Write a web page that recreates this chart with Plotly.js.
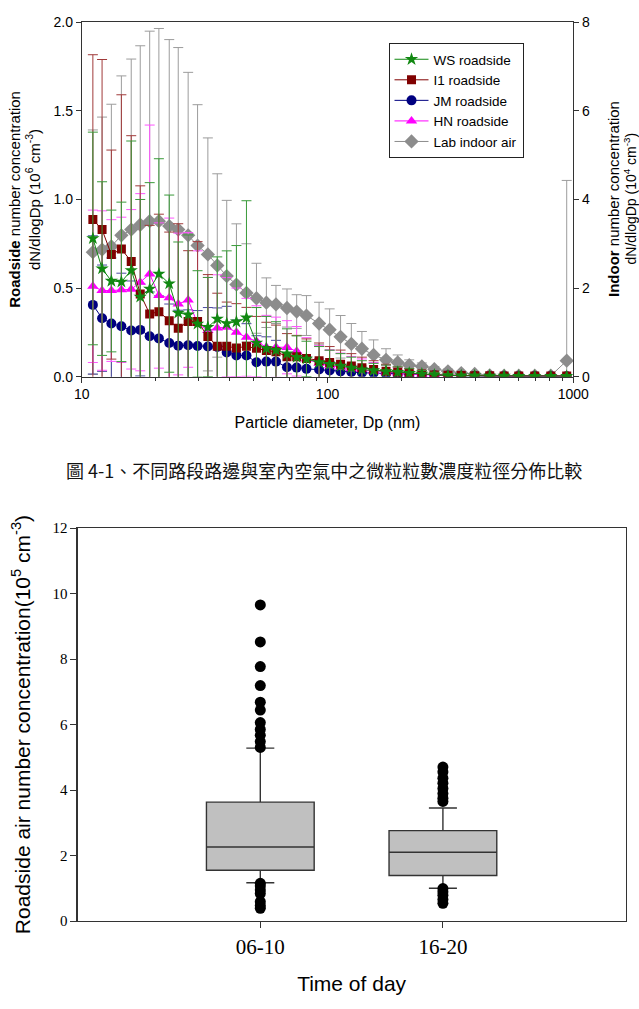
<!DOCTYPE html>
<html>
<head>
<meta charset="utf-8">
<script src="https://cdn.plot.ly/plotly-3.0.1.min.js"></script>
<style>
html,body{margin:0;padding:0;background:#fff;}
#chart{width:639px;height:1009px;}
</style>
</head>
<body>
<div id="chart"></div>
<script>
// ---------- Top chart data: particle size distributions ----------
const diameter = [11.1, 12.1, 13.2, 14.5, 15.9, 17.3, 18.9, 20.6, 22.7, 24.7, 27.1, 29.6, 32.6, 35.6, 38.9, 42.6, 46.8, 51.4, 56.4, 61.7, 68.4, 74.9, 82.1, 92.4, 102, 113, 125, 138, 154, 173, 193, 215, 242, 272, 309, 350, 397, 457, 523, 600, 697, 810, 940];

const wsRoadside = [0.78, 0.61, 0.54, 0.535, 0.60, 0.45, 0.495, 0.58, 0.525, 0.36, 0.35, 0.298, 0.28, 0.326, 0.30, 0.31, 0.333, 0.19, 0.16, 0.15, 0.13, 0.11, 0.10, 0.08, 0.07, 0.06, 0.05, 0.04, 0.035, 0.03, 0.025, 0.02, 0.015, 0.01, 0.006, 0.005, 0.005, 0.004, 0.004, 0.003, 0.003, 0.003, 0.003];
const wsErr = [0.60, 0.49, 0.40, 0.45, 0.73, 0.55, 0.60, 0.65, 0.50, 0.40, 0.45, 0.30, 0.28, 0.35, 0.41, 0.43, 0.66, 0.20, 0.18, 0.16, 0.14, 0.12, 0.10, 0.09, 0.08, 0.07, 0.06, 0.05, 0.04, 0.035, 0.03, 0.025, 0.02, 0.015, 0.01, 0.008, 0.006, 0.005, 0.005, 0.004, 0.004, 0.004, 0.004];

const i1Roadside = [0.887, 0.83, 0.689, 0.721, 0.65, 0.467, 0.354, 0.367, 0.316, 0.273, 0.311, 0.312, 0.226, 0.171, 0.171, 0.162, 0.171, 0.16, 0.147, 0.141, 0.113, 0.113, 0.103, 0.09, 0.08, 0.07, 0.06, 0.05, 0.04, 0.03, 0.025, 0.02, 0.015, 0.01, 0.008, 0.006, 0.005, 0.005, 0.004, 0.004, 0.004, 0.004, 0.004];
const i1Err = [0.93, 0.96, 0.59, 0.87, 0.71, 0.61, 0.50, 0.55, 0.50, 0.59, 0.40, 0.45, 0.35, 0.30, 0.25, 0.25, 0.22, 0.18, 0.16, 0.15, 0.13, 0.12, 0.11, 0.10, 0.09, 0.08, 0.07, 0.06, 0.05, 0.04, 0.03, 0.025, 0.02, 0.015, 0.01, 0.008, 0.006, 0.005, 0.005, 0.005, 0.005, 0.005, 0.005];

const jmRoadside = [0.405, 0.33, 0.30, 0.284, 0.26, 0.264, 0.228, 0.216, 0.19, 0.175, 0.177, 0.173, 0.17, 0.168, 0.137, 0.12, 0.119, 0.081, 0.085, 0.085, 0.053, 0.051, 0.044, 0.04, 0.035, 0.03, 0.027, 0.022, 0.02, 0.017, 0.014, 0.012, 0.01, 0.008, 0.006, 0.005, 0.004, 0.003, 0.003, 0.003, 0.003, 0.003, 0.003];
const jmErr = [0.39, 0.30, 0.37, 0.30, 0.28, 0.26, 0.25, 0.24, 0.22, 0.20, 0.20, 0.20, 0.22, 0.22, 0.26, 0.20, 0.18, 0.15, 0.14, 0.12, 0.10, 0.08, 0.07, 0.06, 0.05, 0.04, 0.035, 0.03, 0.025, 0.02, 0.015, 0.012, 0.01, 0.008, 0.006, 0.005, 0.004, 0.003, 0.003, 0.003, 0.003, 0.003, 0.003];

const hnRoadside = [0.51, 0.486, 0.486, 0.49, 0.493, 0.533, 0.58, 0.458, 0.445, 0.41, 0.433, 0.30, 0.26, 0.275, 0.279, 0.25, 0.222, 0.20, 0.166, 0.166, 0.166, 0.143, 0.10, 0.075, 0.062, 0.053, 0.044, 0.04, 0.03, 0.025, 0.02, 0.015, 0.012, 0.01, 0.008, 0.006, 0.005, 0.004, 0.003, 0.003, 0.003, 0.003, 0.003];
const hnErr = [0.43, 0.45, 0.40, 0.41, 0.45, 0.50, 0.84, 0.41, 0.45, 0.40, 0.38, 0.41, 0.30, 0.30, 0.28, 0.25, 0.22, 0.20, 0.18, 0.17, 0.15, 0.14, 0.12, 0.10, 0.09, 0.08, 0.07, 0.06, 0.05, 0.04, 0.03, 0.02, 0.015, 0.01, 0.01, 0.008, 0.006, 0.005, 0.004, 0.004, 0.004, 0.004, 0.004];

const labIndoor = [2.81, 2.87, 2.94, 3.19, 3.32, 3.43, 3.51, 3.51, 3.40, 3.32, 3.19, 2.96, 2.76, 2.51, 2.27, 2.08, 1.89, 1.77, 1.67, 1.63, 1.55, 1.47, 1.38, 1.20, 1.06, 0.90, 0.74, 0.63, 0.49, 0.38, 0.32, 0.26, 0.23, 0.17, 0.12, 0.08, 0.06, 0.03, 0.02, 0.02, 0.02, 0.02, 0.36];
const labErr = [2.76, 2.99, 3.21, 3.60, 3.85, 4.04, 4.29, 4.35, 4.21, 4.11, 3.68, 3.18, 2.63, 2.07, 1.71, 1.37, 1.11, 0.79, 0.56, 0.43, 0.43, 0.38, 0.45, 0.48, 0.47, 0.48, 0.46, 0.39, 0.34, 0.25, 0.17, 0.12, 0.08, 0.06, 0.05, 0.04, 0.03, 0.02, 0.01, 0.01, 0.01, 0.01, 4.07];

const xTickVals = [10, 100, 1000];
const xTickText = ['10', '100', '1000'];

// ---------- Bottom chart data: box plot ----------
const periods = ['06-10', '16-20'];
const q1 = [1.55, 1.39];
const median = [2.26, 2.10];
const q3 = [3.63, 2.76];
const lowerWhisker = [1.17, 1.00];
const upperWhisker = [5.28, 3.45];
const outliers0610 = [9.65, 8.52, 7.77, 7.19, 6.68, 6.44, 6.06, 5.85, 5.67, 5.48, 5.30, 1.15, 1.07, 0.95, 0.84, 0.59, 0.47, 0.39];
const outliers1620 = [4.70, 4.55, 4.36, 4.21, 4.05, 3.89, 3.75, 3.65, 0.99, 0.89, 0.79, 0.66, 0.54];

const caption = '圖 4-1、不同路段路邊與室內空氣中之微粒粒數濃度粒徑分佈比較';
const indoorTitle1 = '<b>Indoor</b> number concentration';
const indoorTitle2 = 'dN/dlogDp (10<sup>4</sup> cm<sup>-3</sup>)';

// ---------- Build ----------
const SANS = 'Liberation Sans, Arial, sans-serif';
const SERIF = 'Liberation Serif, Times New Roman, serif';
const AX = '#333333';

function series(name, y, err, color, errColor, symbol, size, yaxis, rank) {
  return {
    type: 'scatter', mode: 'lines+markers', name: name,
    x: diameter, y: y, yaxis: yaxis, xaxis: 'x',
    line: {color: color, width: 1},
    marker: {color: color, symbol: symbol, size: size, line: {width: 0}},
    error_y: {type: 'data', array: err, visible: true, color: errColor, thickness: 1, width: 5},
    legendrank: rank
  };
}

const traces = [
  series('Lab indoor air', labIndoor, labErr, '#8c8c8c', '#9c9c9c', 'diamond', 11, 'y', 5),
  series('JM roadside', jmRoadside, jmErr, '#000080', '#4a4aa0', 'circle', 10, 'y2', 3),
  series('HN roadside', hnRoadside, hnErr, '#ff00ff', '#ff55ff', 'triangle-up', 10, 'y2', 4),
  series('I1 roadside', i1Roadside, i1Err, '#800000', '#a03a3a', 'square', 9, 'y2', 2),
  series('WS roadside', wsRoadside, wsErr, '#118811', '#3a9a3a', 'star', 10, 'y2', 1),
  {
    type: 'box', name: 'box', x: periods, xaxis: 'x2', yaxis: 'y3',
    q1: q1, median: median, q3: q3, lowerfence: lowerWhisker, upperfence: upperWhisker,
    boxpoints: false, width: 0.59, whiskerwidth: 0.26,
    fillcolor: '#c0c0c0', line: {color: '#333333', width: 1.4},
    showlegend: false, hoverinfo: 'skip'
  },
  {
    type: 'scatter', mode: 'markers', x: outliers0610.map(() => periods[0]), y: outliers0610,
    xaxis: 'x2', yaxis: 'y3', marker: {color: '#000', size: 11}, showlegend: false
  },
  {
    type: 'scatter', mode: 'markers', x: outliers1620.map(() => periods[1]), y: outliers1620,
    xaxis: 'x2', yaxis: 'y3', marker: {color: '#000', size: 11}, showlegend: false
  }
];

const layout = {
  width: 639, height: 1009,
  margin: {l: 0, r: 0, t: 0, b: 0},
  paper_bgcolor: '#fff', plot_bgcolor: 'rgba(0,0,0,0)',
  font: {family: SANS, color: '#000'},
  showlegend: true,
  legend: {
    x: 0.608, y: 0.9574, xanchor: 'left', yanchor: 'top',
    bordercolor: '#222', borderwidth: 1, bgcolor: '#fff',
    font: {family: SANS, size: 13.5}, traceorder: 'normal', itemwidth: 34,
    tracegroupgap: 0
  },
  xaxis: {
    type: 'log', range: [1, 3], domain: [0.1279, 0.8972], anchor: 'y',
    tickvals: xTickVals, ticktext: xTickText,
    ticks: 'outside', ticklen: 5, tickcolor: AX, showline: true, linecolor: AX, linewidth: 1, mirror: true,
    showgrid: false, zeroline: false,
    minor: {ticks: 'outside', ticklen: 3, tickcolor: AX, dtick: 'D1', showgrid: false},
    tickfont: {family: SANS, size: 14},
    title: {text: 'Particle diameter, Dp (nm)', font: {family: SANS, size: 16}, standoff: 15},
    automargin: false
  },
  yaxis: {
    domain: [0.6267, 0.9779], anchor: 'x', side: 'right', range: [0, 8], dtick: 2,
    ticks: 'outside', ticklen: 5, tickcolor: AX, showline: true, linecolor: AX, linewidth: 1,
    showgrid: false, zeroline: false, tickfont: {family: SANS, size: 14},
    automargin: false
  },
  yaxis2: {
    overlaying: 'y', anchor: 'x', side: 'left', range: [0, 2], dtick: 0.5, tickformat: '.1f',
    ticks: 'outside', ticklen: 5, tickcolor: AX, showline: true, linecolor: AX, linewidth: 1,
    showgrid: false, zeroline: false, tickfont: {family: SANS, size: 14},
    title: {text: '<b>Roadside</b> number concentration<br>dN/dlogDp (10<sup>6</sup> cm<sup>-3</sup>)', font: {family: SANS, size: 15}, standoff: 9},
    automargin: false
  },
  xaxis2: {
    domain: [0.1216, 0.9789], anchor: 'y3', type: 'category', range: [-1, 2],
    ticks: 'outside', ticklen: 6, tickcolor: AX, showline: true, linecolor: AX, linewidth: 1.3, mirror: true,
    showgrid: false, zeroline: false, tickfont: {family: SERIF, size: 21},
    title: {text: 'Time of day', font: {family: SANS, size: 21}, standoff: 18},
    automargin: false
  },
  yaxis3: {
    domain: [0.0872, 0.4767], anchor: 'x2', range: [0, 12], dtick: 2,
    ticks: 'outside', ticklen: 6, tickcolor: AX, showline: true, linecolor: AX, linewidth: 1.3, mirror: true,
    showgrid: false, zeroline: false, tickfont: {family: SERIF, size: 15},
    title: {text: 'Roadside air number concentration(10<sup>5</sup> cm<sup>-3</sup>)', font: {family: SANS, size: 21}, standoff: 16},
    automargin: false
  },
  annotations: [
    {
      text: caption, xref: 'paper', yref: 'paper', x: 0.507, y: 1 - 470 / 1009,
      xanchor: 'center', yanchor: 'middle', showarrow: false,
      font: {family: 'Noto Sans CJK TC, sans-serif', size: 18, color: '#111'}
    },
    {
      text: indoorTitle1, xref: 'paper', yref: 'paper', x: 613 / 639, y: 1 - 199 / 1009,
      xanchor: 'center', yanchor: 'middle', showarrow: false, textangle: -90,
      font: {family: SANS, size: 15, color: '#000'}
    },
    {
      text: indoorTitle2, xref: 'paper', yref: 'paper', x: 630.5 / 639, y: 1 - 199 / 1009,
      xanchor: 'center', yanchor: 'middle', showarrow: false, textangle: -90,
      font: {family: SANS, size: 14, color: '#000'}
    }
  ]
};

Plotly.newPlot('chart', traces, layout, {displayModeBar: false, staticPlot: true});
</script>
</body>
</html>
